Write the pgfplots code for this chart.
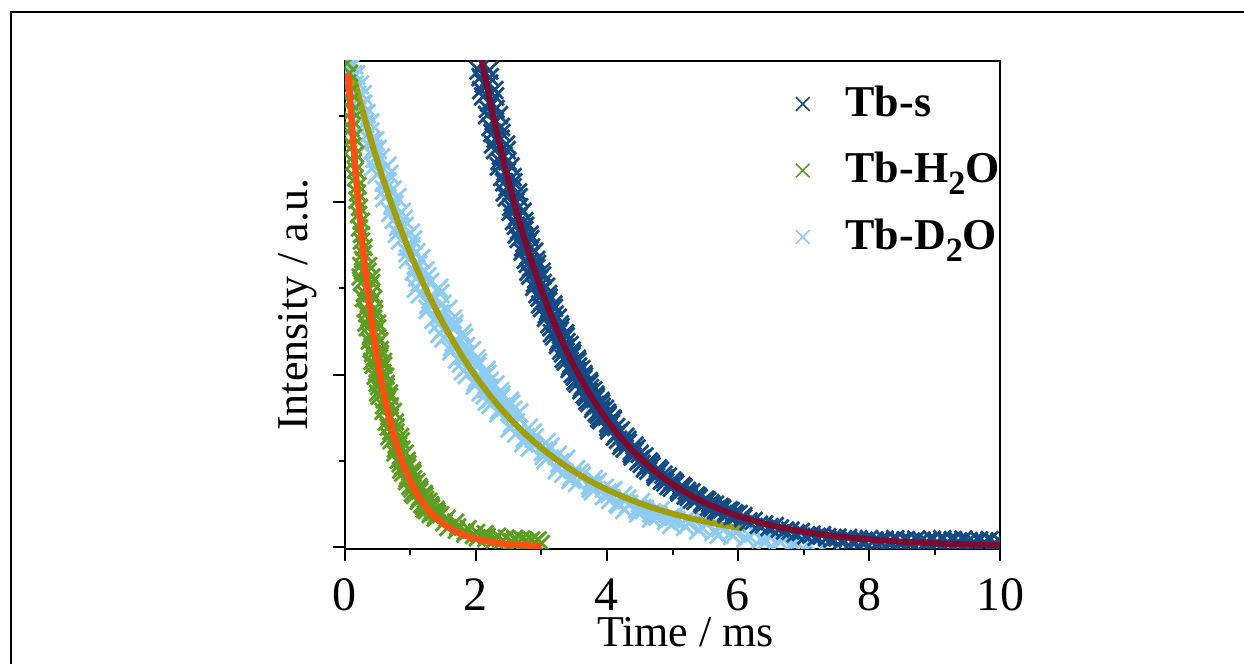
\documentclass[border=0pt]{standalone}
\usepackage{fontspec}
\setmainfont{Liberation Serif}
\usepackage{pgfplots}
\pgfplotsset{compat=1.18}
\definecolor{tbs}{HTML}{134B86}
\definecolor{tbsfit}{HTML}{7B0A2E}
\definecolor{tbh}{HTML}{5C9E21}
\definecolor{tbhfit}{HTML}{FF5014}
\definecolor{tbd}{HTML}{8DCBF2}
\definecolor{tbdfit}{HTML}{A09E0B}
\newcommand{\sub}[1]{\raisebox{-3pt}{\fontsize{8.5}{8.5}\selectfont #1}}

\begin{document}
\begin{tikzpicture}
\useasboundingbox (-86.25pt,-28.75pt) rectangle (224.75pt,137.25pt);
% outer frame (top and left edges only)
\draw[line width=0.5pt] (-83.5pt,-28.75pt) -- (-83.5pt,134.25pt) -- (224.75pt,134.25pt);
\begin{axis}[
  at={(0,0)}, anchor=south west,
  width=163.75pt, height=122.1pt, scale only axis,
  xmin=0, xmax=10, ymin=-0.0046, ymax=1.128,
  clip marker paths=true,
  xtick={0,2,4,6,8,10}, xticklabels={0,2,4,6,8,10}, minor x tick num=1,
  ytick={0,0.4,0.8}, minor ytick={0.2,0.6,1.0}, yticklabels={},
  tick pos=left, tick align=outside,
  major tick length=3pt, minor tick length=1.5pt,
  tick style={line width=0.5pt, black},
  axis line style={line width=0.5pt},
  xticklabel style={font=\fontsize{12}{12}\selectfont, anchor=base, yshift=-12.5pt},
  xlabel={Time / ms},
  ylabel={Intensity / a.u.},
  label style={font=\fontsize{11}{11}\selectfont},
  xlabel style={at={(axis description cs:0.52,-0.200)}, anchor=base},
  ylabel style={at={(axis description cs:-0.072,0.5)}, anchor=center},
  legend style={at={(0.669,0.983)}, anchor=north west, draw=none, fill=none,
    font=\fontsize{11}{13}\selectfont\bfseries, row sep=3.5pt,
    /tikz/every odd column/.append style={column sep=7pt}},
  legend cell align=left,
]
\addlegendimage{only marks, mark=x, mark size=2.4pt, tbs, line width=0.4pt}
\addlegendentry{Tb-s}
\addlegendimage{only marks, mark=x, mark size=2.4pt, tbh, line width=0.4pt}
\addlegendentry{Tb-H\sub{2}O}
\addlegendimage{only marks, mark=x, mark size=2.4pt, tbd, line width=0.4pt}
\addlegendentry{Tb-D\sub{2}O}

% Tb-D2O data
\addplot[forget plot, only marks, mark=x, mark size=3.3pt, tbd, line width=0.7pt] coordinates {
(0.13,1.1187) (0.12,1.0949) (0.22,1.0716) (0.18,1.0488) (0.27,1.0265) (0.28,1.0046) (0.38,0.9832) (0.38,0.9623) (0.39,0.9418) (0.49,0.9218)
(0.46,0.9022) (0.64,0.8830) (0.49,0.8642) (0.64,0.8458) (0.60,0.8278) (0.79,0.8102) (0.73,0.7930) (0.70,0.7762) (0.89,0.7597) (0.82,0.7436)
(1.00,0.7278) (0.85,0.7124) (1.00,0.6973) (0.96,0.6825) (1.15,0.6680) (1.09,0.6539) (1.06,0.6400) (1.25,0.6265) (1.15,0.6132) (1.43,0.6002)
(1.15,0.5875) (1.37,0.5751) (1.28,0.5630) (1.57,0.5511) (1.44,0.5395) (1.36,0.5281) (1.66,0.5170) (1.51,0.5061) (1.79,0.4954) (1.51,0.4850)
(1.73,0.4748) (1.64,0.4648) (1.93,0.4550) (1.80,0.4454) (1.72,0.4360) (2.02,0.4268) (1.87,0.4178) (2.15,0.4090) (1.87,0.4004) (2.09,0.3920)
(2.00,0.3838) (2.29,0.3758) (2.16,0.3679) (2.08,0.3602) (2.38,0.3527) (2.23,0.3453) (2.51,0.3381) (2.23,0.3310) (2.45,0.3241) (2.36,0.3174)
(2.65,0.3108) (2.56,0.2880) (2.52,0.2758) (2.86,0.2641) (2.75,0.2529) (3.07,0.2421) (2.83,0.2318) (3.09,0.2219) (3.04,0.2125) (3.37,0.2035)
(3.28,0.1948) (3.24,0.1795) (3.58,0.1716) (3.47,0.1640) (3.79,0.1567) (3.55,0.1497) (3.81,0.1430) (3.76,0.1366) (4.09,0.1305) (4.00,0.1247)
(3.96,0.1191) (4.30,0.1107) (4.19,0.0986) (4.51,0.1027) (4.27,0.0870) (4.53,0.0885) (4.48,0.0792) (4.81,0.0841) (4.72,0.0751) (4.68,0.0673)
(5.02,0.0717) (4.91,0.0612) (5.23,0.0669) (4.99,0.0527) (5.25,0.0557) (5.20,0.0478) (5.53,0.0540) (5.44,0.0463) (5.40,0.0397) (5.74,0.0452)
(5.63,0.0359) (5.95,0.0426) (5.71,0.0295) (5.97,0.0334) (5.92,0.0264) (6.25,0.0335) (6.16,0.0267) (6.12,0.0210) (6.46,0.0273) (6.35,0.0187)
(6.67,0.0262) (6.43,0.0138) (6.69,0.0184) (6.64,0.0120) (6.97,0.0198) (6.88,0.0135) (6.84,0.0084) (7.18,0.0152) (7.07,0.0072) (7.39,0.0151)
(0.07,1.1187) (0.16,1.0949) (0.14,1.0716) (0.26,1.0488) (0.25,1.0265) (0.32,1.0046) (0.30,0.9832) (0.45,0.9418) (0.43,0.9218) (0.54,0.9022)
(0.44,0.8830) (0.67,0.8642) (0.60,0.8458) (0.72,0.8278) (0.61,0.8102) (0.75,0.7930) (0.86,0.7762) (0.75,0.7597) (0.90,0.7436) (0.80,0.7278)
(1.03,0.7124) (0.96,0.6973) (1.08,0.6825) (0.97,0.6680) (1.11,0.6539) (1.22,0.6400) (1.11,0.6265) (1.29,0.6132) (1.09,0.6002) (1.45,0.5875)
(1.31,0.5751) (1.48,0.5630) (1.27,0.5511) (1.48,0.5395) (1.64,0.5281) (1.42,0.5170) (1.65,0.5061) (1.45,0.4954) (1.81,0.4850) (1.67,0.4748)
(1.84,0.4648) (1.63,0.4550) (1.84,0.4454) (2.00,0.4360) (1.78,0.4268) (2.01,0.4178) (1.81,0.4090) (2.17,0.4004) (2.03,0.3920) (2.20,0.3838)
(1.99,0.3758) (2.20,0.3679) (2.36,0.3602) (2.14,0.3527) (2.37,0.3453) (2.17,0.3381) (2.53,0.3310) (2.39,0.3241) (2.56,0.3174) (2.35,0.3108)
(2.60,0.2880) (2.80,0.2758) (2.62,0.2641) (2.89,0.2529) (2.73,0.2421) (3.13,0.2318) (3.03,0.2219) (3.24,0.2125) (3.07,0.2035) (3.32,0.1948)
(3.52,0.1795) (3.34,0.1716) (3.61,0.1640) (3.45,0.1567) (3.85,0.1497) (3.75,0.1430) (3.96,0.1366) (3.79,0.1305) (4.04,0.1247) (4.24,0.1191)
(4.06,0.1107) (4.33,0.0986) (4.17,0.1027) (4.57,0.0870) (4.47,0.0885) (4.68,0.0792) (4.51,0.0841) (4.76,0.0751) (4.96,0.0673) (4.78,0.0717)
(5.05,0.0612)
};
% Tb-D2O fit
\addplot[forget plot, tbdfit, line width=1.5pt] coordinates {
(0.14,1.0849) (0.22,1.0388) (0.30,0.9946) (0.38,0.9523) (0.46,0.9118) (0.54,0.8730) (0.62,0.8358) (0.70,0.8002) (0.78,0.7662) (0.86,0.7336)
(0.94,0.7024) (1.02,0.6725) (1.10,0.6439) (1.18,0.6165) (1.26,0.5902) (1.34,0.5651) (1.42,0.5411) (1.50,0.5181) (1.58,0.4961) (1.66,0.4750)
(1.74,0.4548) (1.82,0.4354) (1.90,0.4168) (1.98,0.3990) (2.06,0.3820) (2.14,0.3658) (2.22,0.3502) (2.30,0.3353) (2.38,0.3210) (2.46,0.3074)
(2.58,0.2880) (2.74,0.2641) (2.90,0.2421) (3.06,0.2219) (3.22,0.2035) (3.38,0.1865) (3.54,0.1710) (3.70,0.1567) (3.86,0.1436) (4.02,0.1317)
(4.18,0.1207) (4.34,0.1107) (4.50,0.1015) (4.66,0.0931) (4.82,0.0853) (4.98,0.0782) (5.14,0.0717) (5.30,0.0658) (5.46,0.0603) (5.62,0.0552)
(5.78,0.0506) (5.94,0.0464) (6.10,0.0425)
};

% Tb-H2O data
\addplot[forget plot, only marks, mark=x, mark size=2.9pt, tbh, line width=0.7pt] coordinates {
(0.04,1.1457) (0.03,1.1221) (0.07,1.0990) (0.04,1.0763) (0.07,1.0541) (0.07,1.0324) (0.11,1.0111) (0.10,0.9903) (0.09,0.9699) (0.13,0.9499)
(0.12,0.9303) (0.16,0.9111) (0.13,0.8923) (0.16,0.8739) (0.16,0.8559) (0.20,0.8383) (0.19,0.8210) (0.18,0.8041) (0.22,0.7875) (0.21,0.7713)
(0.25,0.7554) (0.22,0.7398) (0.25,0.7246) (0.25,0.7096) (0.29,0.6950) (0.28,0.6807) (0.27,0.6666) (0.36,0.6529) (0.27,0.6394) (0.41,0.6263)
(0.25,0.6133) (0.36,0.6007) (0.30,0.5883) (0.44,0.5762) (0.36,0.5643) (0.31,0.5526) (0.45,0.5412) (0.36,0.5301) (0.50,0.5191) (0.34,0.5084)
(0.45,0.4980) (0.39,0.4877) (0.53,0.4776) (0.45,0.4678) (0.40,0.4581) (0.54,0.4487) (0.45,0.4394) (0.59,0.4304) (0.43,0.4215) (0.54,0.4128)
(0.48,0.4043) (0.62,0.3960) (0.54,0.3878) (0.49,0.3798) (0.63,0.3720) (0.54,0.3643) (0.68,0.3568) (0.52,0.3494) (0.64,0.3411) (0.59,0.3274)
(0.74,0.3143) (0.67,0.3017) (0.63,0.2897) (0.78,0.2781) (0.70,0.2670) (0.85,0.2563) (0.70,0.2461) (0.82,0.2363) (0.77,0.2269) (0.92,0.2179)
(0.85,0.2092) (0.81,0.2009) (0.96,0.1930) (0.88,0.1854) (1.03,0.1781) (0.88,0.1711) (1.00,0.1644) (0.95,0.1579) (1.10,0.1517) (1.03,0.1458)
(0.99,0.1401) (1.14,0.1346) (1.06,0.1294) (1.21,0.1244) (1.06,0.1196) (1.18,0.1150) (1.13,0.1105) (1.28,0.1062) (1.21,0.1021) (1.17,0.0982)
(1.32,0.0944) (1.24,0.0908) (1.39,0.0873) (1.24,0.0840) (1.36,0.0808) (1.31,0.0778) (1.46,0.0749) (1.39,0.0721) (1.38,0.0666) (1.56,0.0667)
(1.51,0.0564) (1.69,0.0576) (1.57,0.0453) (1.72,0.0464) (1.70,0.0389) (1.88,0.0427) (1.84,0.0359) (1.83,0.0303) (2.01,0.0340) (1.96,0.0269)
(2.14,0.0310) (2.02,0.0213) (2.17,0.0248) (2.15,0.0195) (2.33,0.0252) (2.29,0.0201) (2.28,0.0161) (2.46,0.0212) (2.41,0.0154) (2.59,0.0207)
(2.55,0.0120) (2.60,0.0164) (2.65,0.0119) (2.70,0.0184) (2.75,0.0140) (2.80,0.0106) (2.85,0.0162) (2.90,0.0109) (2.95,0.0166) (3.00,0.0083)
(0.24,0.6529) (0.35,0.6394) (0.23,0.6263) (0.41,0.6133) (0.32,0.6007) (0.40,0.5883) (0.28,0.5762) (0.38,0.5643) (0.45,0.5526) (0.33,0.5412)
(0.44,0.5301) (0.32,0.5191) (0.50,0.5084) (0.41,0.4980) (0.49,0.4877) (0.37,0.4776) (0.47,0.4678) (0.54,0.4581) (0.42,0.4487) (0.53,0.4394)
(0.41,0.4304) (0.59,0.4215) (0.50,0.4128) (0.58,0.4043) (0.46,0.3960) (0.56,0.3878) (0.63,0.3798) (0.51,0.3720) (0.62,0.3643) (0.50,0.3568)
(0.68,0.3494) (0.60,0.3411) (0.69,0.3274) (0.58,0.3143) (0.69,0.3017) (0.77,0.2897) (0.66,0.2781) (0.78,0.2670) (0.67,0.2563) (0.86,0.2461)
(0.78,0.2363) (0.87,0.2269) (0.76,0.2179) (0.87,0.2092) (0.95,0.2009) (0.84,0.1930) (0.96,0.1854) (0.85,0.1781) (1.04,0.1711) (0.96,0.1644)
(1.05,0.1579) (0.94,0.1517) (1.05,0.1458) (1.13,0.1401) (1.02,0.1346) (1.14,0.1294) (1.03,0.1244) (1.22,0.1196) (1.14,0.1150) (1.23,0.1105)
(1.12,0.1062) (1.23,0.1021) (1.31,0.0982) (1.20,0.0944) (1.32,0.0908) (1.21,0.0873) (1.40,0.0840) (1.32,0.0808) (1.41,0.0778) (1.30,0.0749)
(1.41,0.0721)
};
% Tb-H2O fit
\addplot[forget plot, tbhfit, line width=1.6pt] coordinates {
(0.05,1.0990) (0.07,1.0541) (0.09,1.0111) (0.11,0.9699) (0.13,0.9303) (0.15,0.8923) (0.17,0.8559) (0.19,0.8210) (0.21,0.7875) (0.23,0.7554)
(0.25,0.7246) (0.27,0.6950) (0.29,0.6666) (0.31,0.6394) (0.33,0.6133) (0.35,0.5883) (0.37,0.5643) (0.39,0.5412) (0.41,0.5191) (0.43,0.4980)
(0.45,0.4776) (0.47,0.4581) (0.49,0.4394) (0.51,0.4215) (0.53,0.4043) (0.55,0.3878) (0.57,0.3720) (0.59,0.3568) (0.60,0.3494) (0.64,0.3214)
(0.68,0.2957) (0.72,0.2721) (0.76,0.2503) (0.80,0.2303) (0.84,0.2119) (0.88,0.1949) (0.92,0.1794) (0.96,0.1651) (1.00,0.1519) (1.04,0.1398)
(1.08,0.1286) (1.12,0.1184) (1.16,0.1090) (1.20,0.1002) (1.24,0.0922) (1.28,0.0848) (1.32,0.0780) (1.36,0.0718) (1.40,0.0661) (1.50,0.0537)
(1.60,0.0436) (1.70,0.0354) (1.80,0.0287) (1.90,0.0233) (2.00,0.0189) (2.10,0.0153) (2.20,0.0125) (2.30,0.0101) (2.40,0.0082) (2.50,0.0067)
(2.60,0.0054) (2.70,0.0044) (2.80,0.0036) (2.90,0.0029) (3.00,0.0023)
};

% Tb-s data
\addplot[forget plot, only marks, mark=x, mark size=3.1pt, tbs, line width=0.7pt] coordinates {
(2.03,1.2372) (1.94,1.2199) (2.10,1.2028) (1.93,1.1860) (2.06,1.1694) (2.00,1.1530) (2.17,1.1369) (2.09,1.1210) (2.04,1.1053) (2.21,1.0898)
(2.12,1.0746) (2.28,1.0596) (2.11,1.0448) (2.24,1.0302) (2.18,1.0158) (2.35,1.0016) (2.27,0.9876) (2.22,0.9738) (2.39,0.9602) (2.30,0.9468)
(2.46,0.9336) (2.29,0.9205) (2.42,0.9076) (2.36,0.8949) (2.53,0.8824) (2.45,0.8701) (2.40,0.8579) (2.57,0.8459) (2.48,0.8341) (2.64,0.8224)
(2.47,0.8109) (2.60,0.7996) (2.54,0.7884) (2.71,0.7774) (2.63,0.7665) (2.58,0.7558) (2.75,0.7452) (2.66,0.7348) (2.82,0.7245) (2.65,0.7144)
(2.78,0.7044) (2.72,0.6946) (2.89,0.6849) (2.81,0.6753) (2.76,0.6659) (2.93,0.6566) (2.84,0.6474) (3.00,0.6383) (2.83,0.6294) (2.96,0.6206)
(2.90,0.6119) (3.07,0.6033) (2.99,0.5949) (2.94,0.5866) (3.11,0.5784) (3.02,0.5703) (3.18,0.5623) (3.01,0.5544) (3.14,0.5467) (3.08,0.5390)
(3.25,0.5315) (3.17,0.5241) (3.12,0.5168) (3.29,0.5096) (3.20,0.5025) (3.36,0.4955) (3.19,0.4886) (3.32,0.4818) (3.26,0.4751) (3.43,0.4685)
(3.35,0.4619) (3.30,0.4554) (3.47,0.4490) (3.38,0.4427) (3.54,0.4365) (3.37,0.4304) (3.50,0.4244) (3.44,0.4185) (3.61,0.4127) (3.53,0.4069)
(3.48,0.4012) (3.65,0.3956) (3.56,0.3901) (3.72,0.3846) (3.55,0.3792) (3.68,0.3739) (3.62,0.3687) (3.79,0.3635) (3.71,0.3584) (3.66,0.3534)
(3.83,0.3485) (3.74,0.3436) (3.90,0.3388) (3.73,0.3341) (3.86,0.3294) (3.80,0.3248) (3.97,0.3203) (3.89,0.3158) (3.84,0.3114) (4.01,0.3070)
(3.92,0.3027) (4.08,0.2985) (3.91,0.2943) (4.06,0.2861) (4.02,0.2782) (4.21,0.2705) (4.15,0.2630) (4.12,0.2557) (4.31,0.2486) (4.24,0.2417)
(4.42,0.2350) (4.27,0.2285) (4.42,0.2221) (4.38,0.2159) (4.57,0.2099) (4.51,0.2041) (4.48,0.1984) (4.67,0.1929) (4.60,0.1875) (4.78,0.1823)
(4.63,0.1772) (4.78,0.1723) (4.74,0.1675) (4.93,0.1629) (4.87,0.1584) (4.84,0.1540) (5.03,0.1497) (4.96,0.1455) (5.14,0.1415) (4.99,0.1376)
(5.14,0.1338) (5.10,0.1301) (5.29,0.1265) (5.23,0.1230) (5.20,0.1196) (5.39,0.1163) (5.32,0.1131) (5.50,0.1100) (5.35,0.1069) (5.50,0.1039)
(5.46,0.1010) (5.65,0.0982) (5.59,0.0955) (5.56,0.0929) (5.75,0.0903) (5.68,0.0878) (5.86,0.0854) (5.71,0.0830) (5.86,0.0807) (5.82,0.0785)
(6.01,0.0763) (5.95,0.0742) (5.92,0.0719) (6.08,0.0670) (6.16,0.0593) (6.24,0.0608) (6.32,0.0515) (6.40,0.0523) (6.48,0.0463) (6.56,0.0485)
(6.64,0.0428) (6.72,0.0383) (6.80,0.0379) (6.88,0.0317) (6.96,0.0346) (7.04,0.0266) (7.12,0.0287) (7.20,0.0239) (7.28,0.0272) (7.36,0.0226)
(7.44,0.0191) (7.52,0.0217) (7.60,0.0173) (7.68,0.0210) (7.76,0.0148) (7.84,0.0177) (7.92,0.0146) (8.00,0.0186) (8.08,0.0156) (8.16,0.0137)
(8.24,0.0169) (8.32,0.0131) (8.40,0.0183) (8.48,0.0116) (8.56,0.0159) (8.64,0.0122) (8.72,0.0176) (8.80,0.0150) (8.88,0.0125) (8.96,0.0170)
(9.04,0.0125) (9.12,0.0180) (9.20,0.0116) (9.28,0.0162) (9.36,0.0128) (9.44,0.0174) (9.52,0.0140) (9.60,0.0117) (9.68,0.0154) (9.76,0.0111)
(9.84,0.0158) (9.92,0.0096) (10.00,0.0133) (10.08,0.0101)
(1.89,1.2372) (2.02,1.2199) (1.90,1.2028) (2.11,1.1860) (2.02,1.1694) (2.12,1.1530) (1.99,1.1369) (2.11,1.1210) (2.20,1.1053) (2.07,1.0898)
(2.20,1.0746) (2.08,1.0596) (2.29,1.0448) (2.20,1.0302) (2.30,1.0158) (2.17,1.0016) (2.29,0.9876) (2.38,0.9738) (2.25,0.9602) (2.38,0.9468)
(2.26,0.9336) (2.47,0.9205) (2.38,0.9076) (2.48,0.8949) (2.35,0.8824) (2.47,0.8701) (2.56,0.8579) (2.43,0.8459) (2.56,0.8341) (2.44,0.8224)
(2.65,0.8109) (2.56,0.7996) (2.66,0.7884) (2.53,0.7774) (2.65,0.7665) (2.74,0.7558) (2.61,0.7452) (2.74,0.7348) (2.62,0.7245) (2.83,0.7144)
(2.74,0.7044) (2.84,0.6946) (2.71,0.6849) (2.83,0.6753) (2.92,0.6659) (2.79,0.6566) (2.92,0.6474) (2.80,0.6383) (3.01,0.6294) (2.92,0.6206)
(3.02,0.6119) (2.89,0.6033) (3.01,0.5949) (3.10,0.5866) (2.97,0.5784) (3.10,0.5703) (2.98,0.5623) (3.19,0.5544) (3.10,0.5467) (3.20,0.5390)
(3.07,0.5315) (3.19,0.5241) (3.28,0.5168) (3.15,0.5096) (3.28,0.5025) (3.16,0.4955) (3.37,0.4886) (3.28,0.4818) (3.38,0.4751) (3.25,0.4685)
(3.37,0.4619) (3.46,0.4554) (3.33,0.4490) (3.46,0.4427) (3.34,0.4365) (3.55,0.4304) (3.46,0.4244) (3.56,0.4185) (3.43,0.4127) (3.55,0.4069)
(3.64,0.4012) (3.51,0.3956) (3.64,0.3901) (3.52,0.3846) (3.73,0.3792) (3.64,0.3739) (3.74,0.3687) (3.61,0.3635) (3.73,0.3584) (3.82,0.3534)
(3.69,0.3485) (3.82,0.3436) (3.70,0.3388) (3.91,0.3341) (3.82,0.3294) (3.92,0.3248) (3.79,0.3203) (3.91,0.3158) (4.00,0.3114) (3.87,0.3070)
(4.00,0.3027) (3.88,0.2985) (4.09,0.2943) (4.02,0.2861) (4.14,0.2782) (4.03,0.2705) (4.17,0.2630) (4.28,0.2557) (4.17,0.2486) (4.32,0.2417)
(4.22,0.2350) (4.45,0.2285) (4.38,0.2221) (4.50,0.2159) (4.39,0.2099) (4.53,0.2041) (4.64,0.1984) (4.53,0.1929) (4.68,0.1875) (4.58,0.1823)
(4.81,0.1772) (4.74,0.1723) (4.86,0.1675) (4.75,0.1629) (4.89,0.1584) (5.00,0.1540) (4.89,0.1497) (5.04,0.1455) (4.94,0.1415) (5.17,0.1376)
(5.10,0.1338) (5.22,0.1301) (5.11,0.1265) (5.25,0.1230) (5.36,0.1196) (5.25,0.1163) (5.40,0.1131) (5.30,0.1100) (5.53,0.1069) (5.46,0.1039)
(5.58,0.1010) (5.47,0.0982) (5.61,0.0955) (5.72,0.0929) (5.61,0.0903) (5.76,0.0878) (5.66,0.0854) (5.89,0.0830) (5.82,0.0807) (5.94,0.0785)
(5.83,0.0763) (5.97,0.0742) (6.08,0.0719)
};
% Tb-s fit
\addplot[forget plot, tbsfit, line width=1.5pt] coordinates {
(2.08,1.1369) (2.10,1.1210) (2.20,1.0448) (2.30,0.9738) (2.40,0.9076) (2.50,0.8459) (2.60,0.7884) (2.70,0.7348) (2.80,0.6849) (2.90,0.6383)
(3.00,0.5949) (3.10,0.5544) (3.20,0.5168) (3.30,0.4818) (3.40,0.4490) (3.50,0.4185) (3.60,0.3901) (3.70,0.3635) (3.80,0.3388) (3.90,0.3158)
(4.00,0.2943) (4.12,0.2705) (4.20,0.2557) (4.32,0.2350) (4.40,0.2221) (4.52,0.2041) (4.60,0.1929) (4.72,0.1772) (4.80,0.1675) (4.92,0.1540)
(5.00,0.1455) (5.12,0.1338) (5.20,0.1265) (5.32,0.1163) (5.40,0.1100) (5.52,0.1010) (5.60,0.0955) (5.72,0.0878) (5.80,0.0830) (5.92,0.0763)
(6.00,0.0719) (6.16,0.0643) (6.32,0.0575) (6.48,0.0513) (6.64,0.0458) (6.80,0.0409) (6.96,0.0366) (7.12,0.0327) (7.28,0.0292) (7.44,0.0261)
(7.60,0.0233) (7.76,0.0208) (7.92,0.0186) (8.08,0.0166) (8.24,0.0149) (8.40,0.0133) (8.56,0.0119) (8.72,0.0106) (8.88,0.0095) (9.04,0.0085)
(9.20,0.0076) (9.36,0.0068) (9.52,0.0060) (9.68,0.0054) (9.84,0.0048) (10.00,0.0043)
};
\end{axis}
\end{tikzpicture}
\end{document}
